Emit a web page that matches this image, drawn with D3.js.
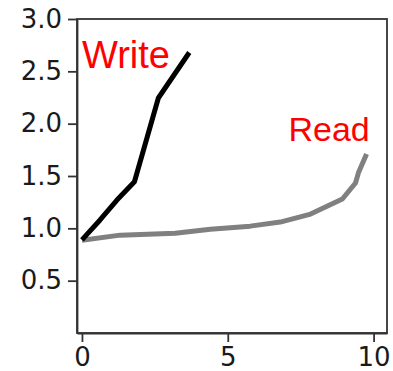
<!DOCTYPE html>
<html>
<head>
<meta charset="utf-8">
<script src="https://cdn.jsdelivr.net/npm/d3@7"></script>
<style>
  body { margin: 0; background: #fff; }
  .axis text { font-family: "DejaVu Sans", sans-serif; font-size: 26px; fill: #1a1a1a; }
  .axis path, .axis line { stroke: #333; stroke-width: 1.8; }
</style>
</head>
<body>
<script>
// valores
const writeX = [0, 0.62, 1.2, 1.8, 2.62, 3.68];
const writeY = [0.89, 1.08, 1.27, 1.445, 2.245, 2.68];

const readX = [0, 1.31, 3.2, 4.4, 5.77, 6.8, 7.84, 8.93, 9.38, 9.48, 9.76];
const readY = [0.887, 0.935, 0.954, 0.992, 1.021, 1.06, 1.136, 1.28, 1.433, 1.53, 1.71];

const xTicks = [0, 5, 10];
const yTicks = [0.5, 1.0, 1.5, 2.0, 2.5, 3.0];

const labels = ['Write', 'Read'];
const labelX = [0, 7.08];
const labelY = [2.53, 1.83];

const WIDTH = 393, HEIGHT = 371;
const margin = {top: 19, right: 6, bottom: 38, left: 77};
const width = WIDTH - margin.left - margin.right,
    height = HEIGHT - margin.top - margin.bottom;

const svg = d3.select('body')
    .append('svg')
        .attr('width', WIDTH)
        .attr('height', HEIGHT)
    .append('g')
        .attr('transform', `translate(${margin.left},${margin.top})`);

const xScale = d3.scaleLinear().domain([-0.17, 10.46]).range([0, width]);
const yScale = d3.scaleLinear().domain([0, 3.0]).range([height, 0]);

// caja completa
svg.append('rect')
    .attr('width', width)
    .attr('height', height)
    .attr('fill', 'none')
    .attr('stroke', '#333')
    .attr('stroke-width', 1.8);

svg.append('g')
    .attr('class', 'axis axis--x')
    .attr('transform', `translate(0,${height})`)
    .call(d3.axisBottom(xScale).tickValues(xTicks).tickFormat(d3.format('d')).tickSizeInner(9).tickSizeOuter(0).tickPadding(6));

svg.append('g')
    .attr('class', 'axis axis--y')
    .call(d3.axisLeft(yScale).tickValues(yTicks).tickFormat(d3.format('.1f')).tickSizeInner(9).tickSizeOuter(0).tickPadding(6));

const line = d3.line()
    .x(d => xScale(d[0]))
    .y(d => yScale(d[1]));

const series = [
    {key: 'Read', pts: d3.zip(readX, readY), color: '#808080'},
    {key: 'Write', pts: d3.zip(writeX, writeY), color: '#000'}
];

svg.selectAll('.serie')
    .data(series)
    .enter().append('path')
        .attr('class', 'serie')
        .attr('d', d => line(d.pts))
        .attr('fill', 'none')
        .attr('stroke', d => d.color)
        .attr('stroke-width', 5)
        .attr('stroke-linejoin', 'round');

svg.selectAll('.label')
    .data(labels)
    .enter().append('text')
        .attr('class', 'label')
        .attr('x', (d, i) => xScale(labelX[i]))
        .attr('y', (d, i) => yScale(labelY[i]))
        .attr('fill', 'red')
        .style('font-family', '"Liberation Sans", Arial, sans-serif')
        .style('font-size', (d, i) => i === 0 ? '38px' : '34px')
        .text(d => d);
</script>
</body>
</html>
